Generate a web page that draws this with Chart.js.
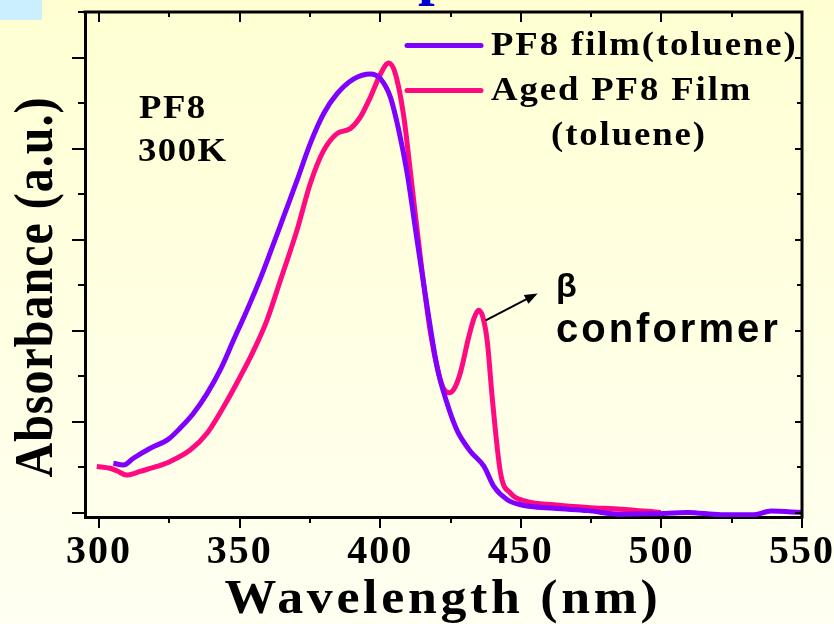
<!DOCTYPE html>
<html>
<head>
<meta charset="utf-8">
<title>PF8 absorbance</title>
<script src="https://cdn.jsdelivr.net/npm/chart.js@4/dist/chart.umd.min.js"></script>
<style>
  html, body { margin: 0; padding: 0; background: #FFFFE6; }
  #wrap { width: 834px; height: 624px; }
  canvas { display: block; }
</style>
</head>
<body>
<div id="wrap"><canvas id="c" width="834" height="624"></canvas></div>
<script>
// Fresh PF8 film cast from toluene: wavelength (nm) and absorbance (a.u.)
const wavelengthFresh = [305.1, 308.7, 312.2, 318.2, 324.7, 328.8, 333.6, 338.4, 343.1, 347.8,
  352.6, 357.3, 360.9, 365.6, 370.4, 375.1, 379.9, 384.6, 390.6, 396.5,
  400.1, 403.6, 406.6, 409.6, 413.1, 416.7, 420.2, 423.8, 427.4, 432.1,
  436.9, 440.4, 445.2, 449.9, 461.8, 473.7, 485.5, 497.3, 509.3, 521.2,
  533.0, 539.0, 549.9];
const absFresh = [0.109, 0.105, 0.120, 0.142, 0.162, 0.186, 0.219, 0.262, 0.314, 0.379,
  0.445, 0.514, 0.572, 0.650, 0.730, 0.811, 0.877, 0.920, 0.953, 0.964,
  0.953, 0.913, 0.840, 0.745, 0.599, 0.452, 0.321, 0.240, 0.180, 0.135,
  0.102, 0.058, 0.029, 0.018, 0.010, 0.005, -0.003, -0.002, 0.001, -0.004,
  -0.004, 0.004, 0.001];

// Aged PF8 film (toluene), showing the beta-conformer band near 435 nm
const wavelengthAged = [299.2, 303.9, 306.5, 309.8, 314.6, 320.5, 325.3, 332.4, 338.4, 344.3,
  350.2, 355.0, 359.7, 364.5, 370.4, 375.1, 379.9, 384.6, 389.4, 392.9,
  396.5, 400.1, 403.0, 405.4, 408.4, 410.8, 414.3, 417.9, 420.8, 422.6,
  424.5, 426.5, 428.6, 431.5, 433.5, 435.0, 436.5, 438.1, 439.8, 442.8,
  446.4, 452.3, 461.8, 473.7, 485.5, 499.8];
const absAged = [0.102, 0.098, 0.092, 0.083, 0.091, 0.102, 0.113, 0.138, 0.175, 0.233,
  0.299, 0.357, 0.423, 0.511, 0.621, 0.723, 0.796, 0.833, 0.844, 0.869,
  0.913, 0.964, 0.988, 0.964, 0.869, 0.745, 0.560, 0.394, 0.306, 0.272,
  0.264, 0.275, 0.310, 0.387, 0.430, 0.445, 0.430, 0.375, 0.255, 0.087,
  0.043, 0.025, 0.018, 0.012, 0.008, 0.001];

// Axis ticks
const xMajorTicks = [300, 350, 400, 450, 500, 550];
const xMinorTicks = [325, 375, 425, 475, 525];
const yMajorTicks = [0, 0.2, 0.4, 0.6, 0.8, 1.0];
const yMinorTicks = [0.1, 0.3, 0.5, 0.7, 0.9, 1.1];

// Text
const legendFresh = ['PF8 film(toluene)'];
const legendAged = ['Aged PF8 Film', '(toluene)'];
const sampleLines = ['PF8', '300K'];
const betaLines = ['\u03B2', 'conformer'];
const xTitle = 'Wavelength (nm)';
const yTitle = 'Absorbance (a.u.)';
const topTitle = 'Absorption';

const purple = '#8000FF';
const pink = '#FF0A80';
const serif = "'Liberation Serif', 'Times New Roman', serif";
const sans = "'Liberation Sans', Arial, sans-serif";

const toPoints = (xs, ys) => xs.map((x, i) => ({ x: x, y: ys[i] }));

// Draws one line of text; sx widens the glyphs horizontally
function drawText(ctx, text, x, y, font, spacing, align, color, sx) {
  sx = sx || 1;
  ctx.save();
  ctx.translate(x, y);
  ctx.scale(sx, 1);
  ctx.font = font;
  ctx.letterSpacing = (spacing / sx) + 'px';
  ctx.textAlign = align || 'left';
  ctx.textBaseline = 'alphabetic';
  ctx.fillStyle = color || '#000';
  ctx.fillText(text, 0, 0);
  ctx.restore();
}

const decorations = {
  id: 'decorations',
  beforeDraw(chart) {
    const ctx = chart.ctx;
    const g = ctx.createLinearGradient(0, 0, 0, chart.height);
    g.addColorStop(0, '#FFFFD2');
    g.addColorStop(1, '#FFFFF2');
    ctx.save();
    ctx.fillStyle = g;
    ctx.fillRect(0, 0, chart.width, chart.height);
    // pale blue tab in the corner
    ctx.fillStyle = '#CCEFFF';
    ctx.fillRect(0, 0, 42, 20);
    ctx.restore();
    ctx.letterSpacing = '2px';
  },
  afterDraw(chart) {
    const ctx = chart.ctx;
    ctx.letterSpacing = '0px';
    const xs = chart.scales.x, ys = chart.scales.y;
    const a = chart.chartArea;

    ctx.save();
    ctx.strokeStyle = '#000';
    ctx.lineCap = 'butt';
    // top and right frame
    ctx.lineWidth = 3;
    ctx.beginPath();
    ctx.moveTo(a.left - 1.5, a.top);
    ctx.lineTo(a.right, a.top);
    ctx.lineTo(a.right, a.bottom + 1.5);
    ctx.stroke();

    ctx.lineWidth = 2;
    ctx.beginPath();
    xMajorTicks.forEach(v => {
      const px = Math.round(xs.getPixelForValue(v));
      ctx.moveTo(px, a.bottom); ctx.lineTo(px, a.bottom + 11);
      ctx.moveTo(px, a.top); ctx.lineTo(px, a.top + 10);
    });
    xMinorTicks.forEach(v => {
      const px = Math.round(xs.getPixelForValue(v));
      ctx.moveTo(px, a.bottom); ctx.lineTo(px, a.bottom + 6);
      ctx.moveTo(px, a.top); ctx.lineTo(px, a.top + 5);
    });
    yMajorTicks.forEach(v => {
      const py = Math.round(ys.getPixelForValue(v));
      ctx.moveTo(a.left, py); ctx.lineTo(a.left - 13, py);
      ctx.moveTo(a.right, py); ctx.lineTo(a.right - 7, py);
    });
    yMinorTicks.forEach(v => {
      const py = Math.round(ys.getPixelForValue(v));
      ctx.moveTo(a.left, py); ctx.lineTo(a.left - 7, py);
      ctx.moveTo(a.right, py); ctx.lineTo(a.right - 5, py);
    });
    ctx.stroke();
    ctx.restore();

    // title, mostly above the page edge
    ctx.save();
    ctx.font = 'bold 60px ' + serif;
    const lead = ctx.measureText(topTitle.slice(0, 5)).width;
    ctx.restore();
    drawText(ctx, topTitle, 418 - lead, -7, 'bold 60px ' + serif, 0, 'left', '#0000CC');

    // axis titles
    drawText(ctx, xTitle, 443, 613, 'bold 48px ' + serif, 3.7, 'center', '#000', 1.08);
    ctx.save();
    ctx.translate(52, 287);
    ctx.rotate(-Math.PI / 2);
    ctx.scale(1, 1.15);
    drawText(ctx, yTitle, 0, 0, 'bold 48px ' + serif, 1, 'center');
    ctx.restore();

    // sample label
    drawText(ctx, sampleLines[0], 139, 118, 'bold 34px ' + serif, 1.5, 'left', '#000', 1.08);
    drawText(ctx, sampleLines[1], 138, 161, 'bold 34px ' + serif, 1.5, 'left', '#000', 1.08);

    // legend
    ctx.save();
    ctx.lineWidth = 5;
    ctx.lineCap = 'round';
    ctx.strokeStyle = purple;
    ctx.beginPath(); ctx.moveTo(407, 45.5); ctx.lineTo(481, 45.5); ctx.stroke();
    ctx.strokeStyle = pink;
    ctx.beginPath(); ctx.moveTo(407, 90.5); ctx.lineTo(481, 90.5); ctx.stroke();
    ctx.restore();
    drawText(ctx, legendFresh[0], 491, 55, 'bold 34px ' + serif, 1.9, 'left', '#000', 1.08);
    drawText(ctx, legendAged[0], 491, 100, 'bold 34px ' + serif, 1.9, 'left', '#000', 1.08);
    drawText(ctx, legendAged[1], 629, 145, 'bold 34px ' + serif, 1.9, 'center', '#000', 1.08);

    // beta-conformer note with arrow from the band
    drawText(ctx, betaLines[0], 556, 297, 'bold 34px ' + sans, 0);
    drawText(ctx, betaLines[1], 556, 342, 'bold 40px ' + sans, 3);
    const x0 = xs.getPixelForValue(437.5), y0 = ys.getPixelForValue(0.423);
    const x1 = xs.getPixelForValue(456.0), y1 = ys.getPixelForValue(0.482);
    const dx = x1 - x0, dy = y1 - y0, len = Math.hypot(dx, dy);
    const ux = dx / len, uy = dy / len;
    const bx = x1 - 13 * ux, by = y1 - 13 * uy;
    ctx.save();
    ctx.strokeStyle = '#000';
    ctx.fillStyle = '#000';
    ctx.lineWidth = 2;
    ctx.beginPath(); ctx.moveTo(x0, y0); ctx.lineTo(bx + ux, by + uy); ctx.stroke();
    ctx.beginPath();
    ctx.moveTo(x1, y1);
    ctx.lineTo(bx - 5 * uy, by + 5 * ux);
    ctx.lineTo(bx + 5 * uy, by - 5 * ux);
    ctx.closePath();
    ctx.fill();
    ctx.restore();
  }
};

new Chart(document.getElementById('c'), {
  type: 'line',
  data: {
    datasets: [
      {
        label: legendFresh.join(' '),
        data: toPoints(wavelengthFresh, absFresh),
        borderColor: purple,
        borderWidth: 5,
        pointRadius: 0,
        fill: false,
        cubicInterpolationMode: 'monotone'
      },
      {
        label: legendAged.join(' '),
        data: toPoints(wavelengthAged, absAged),
        borderColor: pink,
        borderWidth: 5,
        pointRadius: 0,
        fill: false,
        cubicInterpolationMode: 'monotone'
      }
    ]
  },
  options: {
    responsive: false,
    animation: false,
    devicePixelRatio: 1,
    layout: { padding: { left: 0, top: 12, right: 32, bottom: 0 } },
    plugins: { legend: { display: false }, tooltip: { enabled: false } },
    scales: {
      x: {
        type: 'linear',
        min: 295,
        max: 550,
        afterBuildTicks(scale) {
          scale.ticks = xMajorTicks.concat(xMinorTicks).sort((p, q) => p - q).map(v => ({ value: v }));
        },
        afterFit(scale) {
          scale.height = 107;
          scale.paddingLeft = 0;
          scale.paddingRight = 0;
        },
        grid: { display: false, drawTicks: false },
        border: { display: true, color: '#000', width: 3 },
        ticks: {
          autoSkip: false,
          maxRotation: 0,
          padding: 12,
          color: '#000',
          font: { family: serif, size: 40, weight: 'bold' },
          callback: v => (xMajorTicks.includes(v) ? String(v) : '')
        }
      },
      y: {
        type: 'linear',
        min: -0.009,
        max: 1.1,
        afterBuildTicks(scale) {
          scale.ticks = yMajorTicks.concat(yMinorTicks).sort((p, q) => p - q).map(v => ({ value: v }));
        },
        afterFit(scale) { scale.width = 85; },
        grid: { display: false, drawTicks: false },
        border: { display: true, color: '#000', width: 3 },
        ticks: { display: false }
      }
    }
  },
  plugins: [decorations]
});
</script>
</body>
</html>
